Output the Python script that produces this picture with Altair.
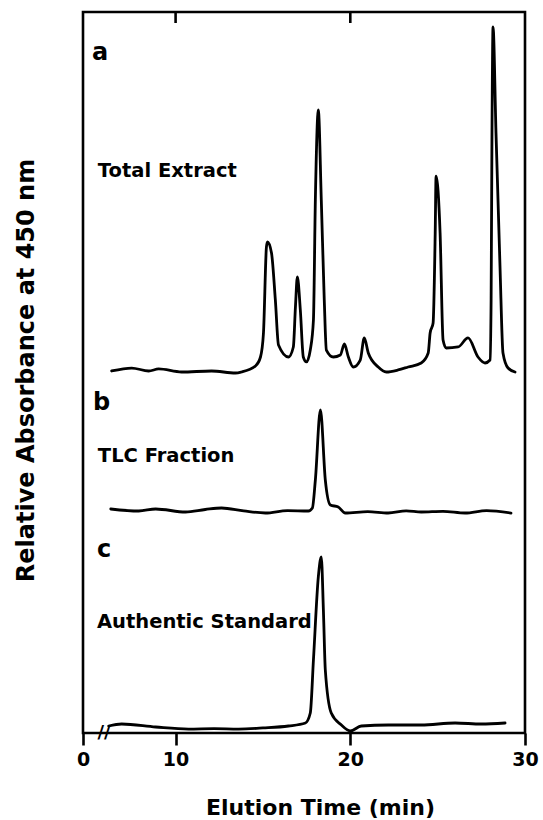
import altair as alt
import pandas as pd

# ---- data (time in min, relative absorbance above each baseline) ----
time_a = [6.34, 7.49, 8.46, 9.03, 10.34, 12.06, 13.43, 13.77, 14.57, 14.86, 15.03, 15.2, 15.26,
          15.49, 15.71, 15.89, 16.46, 16.74, 16.86, 16.97, 17.14, 17.31, 17.49, 17.71, 17.89, 18.0,
          18.17, 18.34, 18.51, 18.63, 19.03, 19.43, 19.66, 19.89, 20.17, 20.57, 20.8, 21.03, 21.6,
          22.06, 22.74, 23.31, 24.06, 24.46, 24.57, 24.74, 24.86, 24.91, 25.14, 25.31, 25.49, 26.17,
          26.74, 27.31, 27.71, 28.0, 28.06, 28.11, 28.17, 28.34, 28.57, 28.74, 29.03, 29.43]
abs_a = [0.21, 0.62, 0.21, 0.49, 0.07, 0.21, -0.07, 0.07, 0.9, 2.15, 5.48, 17.41, 18.1,
         16.57, 10.06, 3.81, 2.15, 3.54, 9.08, 13.25, 8.67, 2.15, 1.46, 3.12, 7.28, 23.93,
         36.41, 23.93, 10.06, 3.12, 2.15, 2.43, 3.95, 2.15, 0.76, 1.73, 4.79, 2.7, 0.76,
         0.07, 0.35, 0.76, 1.32, 2.7, 5.48, 6.87, 19.35, 27.25, 19.35, 4.51, 3.4, 3.54,
         4.79, 2.15, 1.32, 1.73, 10.06, 33.2, 47.92, 33.2, 14.63, 2.7, 0.62, 0.07]

time_b = [6.29, 7.89, 8.86, 10.57, 11.7, 12.63, 13.9, 15.14, 16.4, 17.6, 17.83, 18.0, 18.29,
          18.57, 18.86, 19.31, 19.71, 21.0, 22.17, 23.2, 24.06, 25.3, 26.57, 27.8, 29.2]
abs_b = [0.57, 0.29, 0.57, 0.15, 0.5, 0.71, 0.3, 0.01, 0.35, 0.29, 0.71, 4.59, 14.3,
         4.59, 1.12, 0.85, 0.01, 0.2, 0.01, 0.3, 0.15, 0.25, 0.01, 0.35, 0.01]

time_c = [6.17, 6.91, 8.86, 10.74, 12.2, 13.6, 15.0, 16.46, 17.43, 17.71, 17.89, 18.17, 18.34,
          18.46, 18.57, 18.91, 19.49, 20.0, 20.63, 22.17, 24.06, 26.0, 27.5, 28.86]
abs_c = [-0.03, 0.25, -0.17, -0.45, -0.4, -0.45, -0.3, -0.03, 0.39, 1.77, 9.12, 20.64, 23.41,
         16.06, 7.74, 1.77, 0.11, -0.72, -0.03, 0.11, 0.11, 0.39, 0.25, 0.39]

trace_names = ["a", "b", "c"]
trace_offsets = [50.0, 30.5, 1.0]

panel_letters = ["a", "b", "c"]
panel_names = ["Total Extract", "TLC Fraction", "Authentic Standard"]
letter_time = [5.21, 5.27, 5.5]
letter_level = [93.3, 44.8, 24.4]
name_time = [5.55, 5.55, 5.5]
name_level = [77.1, 37.6, 14.6]

top_tick_times = [10, 20]
x_tick_values = [4.7, 10, 20, 30]

FONT = "DejaVu Sans"

rows = []
for name, off, ts, vs in zip(trace_names, trace_offsets,
                             [time_a, time_b, time_c], [abs_a, abs_b, abs_c]):
    for t, v in zip(ts, vs):
        rows.append({"trace": name, "time": t, "signal": v, "offset": off})
df = pd.DataFrame(rows)

letters_df = pd.DataFrame({"text": panel_letters, "time": letter_time, "level": letter_level})
names_df = pd.DataFrame({"text": panel_names, "time": name_time, "level": name_level})
ticks_df = pd.DataFrame({"time": top_tick_times})
break_df = pd.DataFrame({"time": [5.9], "level": [0.0], "text": ["//"]})

xscale = alt.Scale(domain=[4.7, 30], nice=False, zero=False)
yscale = alt.Scale(domain=[0, 100], nice=False, zero=False)

x_enc = alt.X(
    "time:Q", scale=xscale, title="Elution Time (min)",
    axis=alt.Axis(
        values=x_tick_values,
        labelExpr="datum.value < 5 ? '0' : format(datum.value, 'd')",
        domain=False, grid=False, ticks=True, tickSize=12, tickWidth=2.6, tickColor="black",
        labelFont=FONT, labelFontWeight="bold", labelFontSize=19, labelColor="black",
        labelPadding=5, labelFlush=False,
        titleFont=FONT, titleFontWeight="bold", titleFontSize=22, titleColor="black",
        titleX=237, titleY=74, titleBaseline="middle", titleAlign="center",
    ),
)
y_enc = alt.Y(
    "level:Q", scale=yscale, title="Relative Absorbance at 450 nm",
    axis=alt.Axis(
        labels=False, ticks=False, domain=False, grid=False,
        titleFont=FONT, titleFontWeight="bold", titleFontSize=24, titleColor="black",
        titleX=-57, titleY=358, titleAngle=-90, titleBaseline="middle", titleAlign="center",
    ),
)

lines = (
    alt.Chart(df)
    .transform_calculate(level="datum.signal + datum.offset")
    .mark_line(color="black", strokeWidth=2.8, interpolate="monotone", strokeJoin="round", strokeCap="round")
    .encode(x=x_enc, y=y_enc, detail="trace:N")
)

letters = (
    alt.Chart(letters_df)
    .mark_text(font=FONT, fontWeight="bold", fontSize=24, align="left", baseline="alphabetic", color="black")
    .encode(x=alt.X("time:Q", scale=xscale), y=alt.Y("level:Q", scale=yscale), text="text:N")
)

names = (
    alt.Chart(names_df)
    .mark_text(font=FONT, fontWeight="bold", fontSize=19.5, align="left", baseline="alphabetic", color="black")
    .encode(x=alt.X("time:Q", scale=xscale), y=alt.Y("level:Q", scale=yscale), text="text:N")
)

top_ticks = (
    alt.Chart(ticks_df)
    .mark_rule(color="black", strokeWidth=2.6)
    .encode(x=alt.X("time:Q", scale=xscale), y=alt.value(0), y2=alt.value(11))
)

axis_break = (
    alt.Chart(break_df)
    .mark_text(font=FONT, fontWeight="bold", fontSize=18, align="center", baseline="middle", color="black")
    .encode(x=alt.X("time:Q", scale=xscale), y=alt.Y("level:Q", scale=yscale), text="text:N")
)

chart = (
    alt.layer(lines, top_ticks, letters, names, axis_break)
    .properties(
        width=442, height=721,
        autosize=alt.AutoSizeParams(type="none"),
        padding={"left": 83, "top": 12, "right": 18, "bottom": 87},
        background="white",
    )
    .configure_view(stroke="black", strokeWidth=2.6)
)

chart.save("out.html", embed_options={"renderer": "svg", "actions": False})
